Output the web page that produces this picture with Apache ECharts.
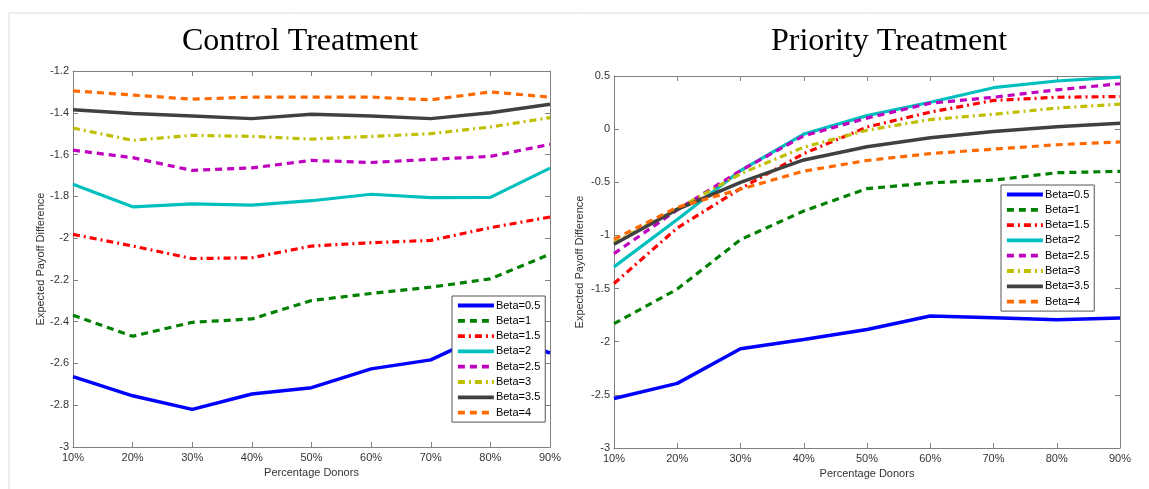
<!DOCTYPE html>
<html>
<head>
<meta charset="utf-8">
<script src="https://cdn.jsdelivr.net/npm/echarts@6/dist/echarts.min.js"></script>
<style>
html,body{margin:0;padding:0;background:#fff;}
#chart{width:1149px;height:489px;}
</style>
</head>
<body>
<div id="chart"></div>
<script>
const categories = ['10%','20%','30%','40%','50%','60%','70%','80%','90%'];
const seriesNames = ['Beta=0.5','Beta=1','Beta=1.5','Beta=2','Beta=2.5','Beta=3','Beta=3.5','Beta=4'];

// Control Treatment
const control_b05 = [-2.663, -2.755, -2.82, -2.746, -2.716, -2.626, -2.583, -2.45, -2.55];
const control_b1  = [-2.369, -2.47, -2.403, -2.387, -2.299, -2.265, -2.235, -2.195, -2.077];
const control_b15 = [-1.982, -2.038, -2.098, -2.094, -2.038, -2.022, -2.011, -1.95, -1.899];
const control_b2  = [-1.742, -1.85, -1.836, -1.842, -1.821, -1.79, -1.806, -1.805, -1.665];
const control_b25 = [-1.579, -1.615, -1.676, -1.664, -1.628, -1.638, -1.623, -1.609, -1.551];
const control_b3  = [-1.473, -1.532, -1.508, -1.513, -1.526, -1.513, -1.50, -1.468, -1.423];
const control_b35 = [-1.386, -1.404, -1.415, -1.428, -1.407, -1.415, -1.428, -1.40, -1.359];
const control_b4  = [-1.295, -1.315, -1.335, -1.325, -1.325, -1.325, -1.338, -1.30, -1.325];

// Priority Treatment
const priority_b05 = [-2.534, -2.392, -2.067, -1.979, -1.885, -1.758, -1.774, -1.793, -1.777];
const priority_b1  = [-1.83, -1.505, -1.04, -0.77, -0.56, -0.505, -0.48, -0.41, -0.397];
const priority_b15 = [-1.453, -0.93, -0.56, -0.23, 0.02, 0.16, 0.27, 0.30, 0.307];
const priority_b2  = [-1.296, -0.85, -0.39, -0.047, 0.127, 0.253, 0.39, 0.453, 0.49];
const priority_b25 = [-1.171, -0.76, -0.39, -0.063, 0.104, 0.244, 0.30, 0.37, 0.427];
const priority_b3  = [-1.07, -0.75, -0.42, -0.17, -0.01, 0.09, 0.14, 0.198, 0.235];
const priority_b35 = [-1.083, -0.755, -0.5, -0.29, -0.165, -0.08, -0.022, 0.023, 0.056];
const priority_b4  = [-1.036, -0.735, -0.565, -0.395, -0.295, -0.23, -0.188, -0.147, -0.12];

const controlData = [control_b05, control_b1, control_b15, control_b2, control_b25, control_b3, control_b35, control_b4];
const priorityData = [priority_b05, priority_b1, priority_b15, priority_b2, priority_b25, priority_b3, priority_b35, priority_b4];

const styles = [
  {color:'#0000ff', width:3.5, type:'solid'},
  {color:'#008000', width:3.2, type:[7,5]},
  {color:'#ff0000', width:3.2, type:[7,4,2,4]},
  {color:'#00bfbf', width:3.2, type:'solid'},
  {color:'#bf00bf', width:3.2, type:[7,5]},
  {color:'#bfbf00', width:3.2, type:[7,4,2,4]},
  {color:'#404040', width:3.5, type:'solid'},
  {color:'#ff6a00', width:3.2, type:[7,5]}
];

const FONT = 'Liberation Sans, Arial, sans-serif';
const axisColor = '#808080';
const labelColor = '#333333';

function mainX(gi){
  return {
    type:'category', gridIndex:gi, data:categories, boundaryGap:false, position:'bottom',
    axisLine:{show:true, onZero:false, lineStyle:{color:axisColor, width:1}},
    axisTick:{show:true, inside:true, length:5, lineStyle:{color:axisColor}},
    axisLabel:{color:labelColor, fontSize:11, fontFamily:FONT, margin:5},
    splitLine:{show:false},
    name:'Percentage Donors', nameLocation:'middle', nameGap:16,
    nameTextStyle:{color:labelColor, fontSize:11, fontFamily:FONT}
  };
}
function topX(gi){
  return {
    type:'category', gridIndex:gi, data:categories, boundaryGap:false, position:'top',
    axisLine:{show:true, onZero:false, lineStyle:{color:axisColor, width:1}},
    axisTick:{show:true, inside:true, length:5, lineStyle:{color:axisColor}},
    axisLabel:{show:false}, splitLine:{show:false}
  };
}
function mainY(gi, min, max, interval, gap){
  return {
    type:'value', gridIndex:gi, min:min, max:max, interval:interval, position:'left',
    axisLine:{show:true, onZero:false, lineStyle:{color:axisColor, width:1}},
    axisTick:{show:true, inside:true, length:5, lineStyle:{color:axisColor}},
    axisLabel:{color:labelColor, fontSize:11, fontFamily:FONT, margin:4},
    splitLine:{show:false},
    name:'Expected Payoff Difference', nameLocation:'middle', nameGap:gap,
    nameTextStyle:{color:labelColor, fontSize:11, fontFamily:FONT}
  };
}
function rightY(gi, min, max, interval){
  return {
    type:'value', gridIndex:gi, min:min, max:max, interval:interval, position:'right',
    axisLine:{show:true, onZero:false, lineStyle:{color:axisColor, width:1}},
    axisTick:{show:true, inside:true, length:5, lineStyle:{color:axisColor}},
    axisLabel:{show:false}, splitLine:{show:false}
  };
}

const series = [];
function addSeries(dataList, xi, yi){
  dataList.forEach((d, i) => {
    series.push({
      name: seriesNames[i], type:'line', xAxisIndex:xi, yAxisIndex:yi,
      data:d, symbol:'none', showSymbol:false, animation:false,
      lineStyle:{color:styles[i].color, width:styles[i].width, type:styles[i].type},
      itemStyle:{color:styles[i].color}
    });
  });
}
addSeries(controlData, 0, 0);
addSeries(priorityData, 2, 2);

function legendAt(left, top){
  return {
    show:true, orient:'vertical', left:left, top:top,
    data:seriesNames, itemWidth:36, itemHeight:11, itemGap:4.3,
    padding:[4,5,4,4], backgroundColor:'#ffffff', borderColor:'#555555', borderWidth:1,
    textStyle:{color:'#000', fontSize:11, fontFamily:FONT, padding:[0,0,0,-3]},
    itemStyle:{opacity:0},
    lineStyle:{width:3.8},
    selectedMode:false
  };
}

const chart = echarts.init(document.getElementById('chart'), null, {renderer:'canvas'});
chart.setOption({
  animation:false,
  backgroundColor:'#ffffff',
  grid:[
    {left:73, top:71, width:477, height:376},
    {left:614, top:76, width:506, height:372}
  ],
  xAxis:[mainX(0), topX(0), mainX(1), topX(1)],
  yAxis:[mainY(0, -3, -1.2, 0.2, 27), rightY(0, -3, -1.2, 0.2), mainY(1, -3, 0.5, 0.5, 29), rightY(1, -3, 0.5, 0.5)],
  legend:[legendAt(452, 296), legendAt(1001, 185)],
  series: series,
  graphic:[
    {type:'rect', z:-10, shape:{x:9, y:13, width:1200, height:600}, style:{fill:'none', stroke:'#dddddd', lineWidth:1}},
    {type:'text', style:{text:'Control Treatment', x:300, y:42, textAlign:'center', textVerticalAlign:'middle', font:'32px "Liberation Serif", "Times New Roman", serif', fill:'#000'}},
    {type:'text', style:{text:'Priority Treatment', x:889, y:42, textAlign:'center', textVerticalAlign:'middle', font:'32px "Liberation Serif", "Times New Roman", serif', fill:'#000'}}
  ]
});
</script>
</body>
</html>
